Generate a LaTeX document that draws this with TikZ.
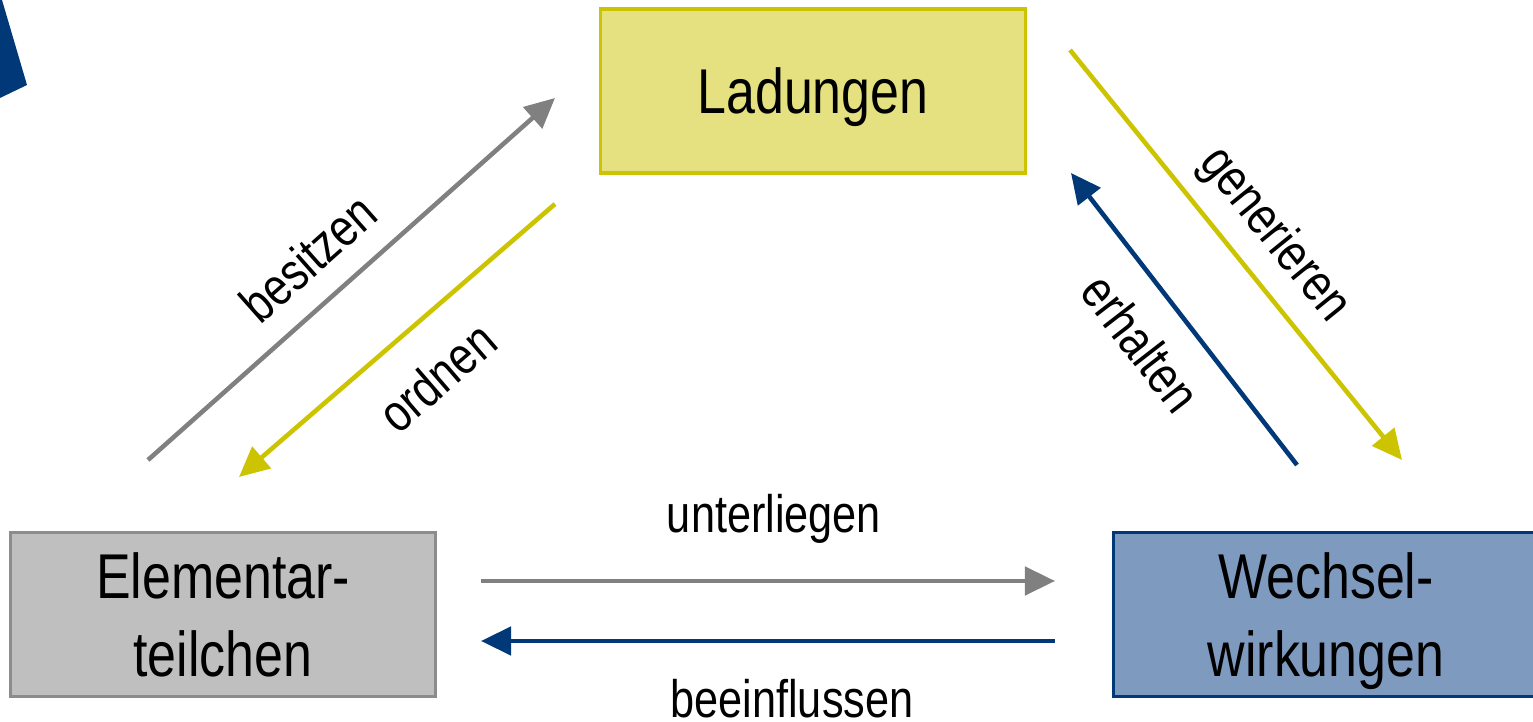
\documentclass[tikz,border=0pt]{standalone}
\usepackage{fontspec}
\setmainfont{Liberation Sans}[FakeStretch=0.82]
\usetikzlibrary{arrows.meta}
\definecolor{gelb}{RGB}{204,196,0}
\definecolor{gelbfill}{RGB}{229,225,128}
\definecolor{grau}{RGB}{128,128,128}
\definecolor{graurand}{RGB}{140,140,140}
\definecolor{graufill}{RGB}{191,191,191}
\definecolor{blau}{RGB}{0,56,120}
\definecolor{blaufill}{RGB}{127,154,191}

\begin{document}
\begin{tikzpicture}
	[x=0.01cm, y=-0.01cm, line width=1.3pt,
	main/.style = {draw, rectangle, line width=0.9pt, minimum width=4.24cm, minimum height=1.64cm, align=center, text depth=0pt, font=\fontsize{18}{22.2}\selectfont},
	conn/.style = {-{Triangle[length=0.3cm, width=0.28cm]}},
	lbl/.style = {font=\fontsize{15}{18}\selectfont, inner sep=0pt}]
	\useasboundingbox (0,0) rectangle (1533,722);
	\fill[blau] (0,0) -- (2,0) -- (27,85) -- (0,98) -- cycle;
	\node[main, fill=gelbfill, draw=gelb] (1) at (813,91) {Ladungen};
	\node[main, fill=graufill, draw=graurand] (2) at (223,614.5) {Elementar-\\teilchen};
	\node[main, fill=blaufill, draw=blau] (3) at (1326,614.5) {Wechsel-\\wirkungen};
	\coordinate (a1) at (148,460);
	\coordinate (a2) at (555,98);
	\coordinate (b1) at (555,204);
	\coordinate (b2) at (239,477);
	\coordinate (c1) at (1070,50);
	\coordinate (c2) at (1402,460);
	\coordinate (d1) at (1297,465);
	\coordinate (d2) at (1071,173);
	\coordinate (e1) at (481,581);
	\coordinate (e2) at (1055,581);
	\coordinate (f1) at (1055,641);
	\coordinate (f2) at (481,641);
	\draw[conn, grau] (a1) -- (a2);
	\draw[conn, gelb] (b1) -- (b2);
	\draw[conn, gelb] (c1) -- (c2);
	\draw[conn, blau] (d1) -- (d2);
	\draw[conn, grau] (e1) -- (e2);
	\draw[conn, blau] (f1) -- (f2);
	\node[lbl, rotate=41.6] (l1) at (308,258) {besitzen};
	\node[lbl, rotate=40.8] (l2) at (437,377) {ordnen};
	\node[lbl, rotate=-51] (l3) at (1274,235) {generieren};
	\node[lbl, rotate=-52.3] (l4) at (1141,343) {erhalten};
	\node[lbl, anchor=base] (l5) at (774,533) {unterliegen};
	\node[lbl, anchor=base] (l6) at (792,718) {beeinflussen};
\end{tikzpicture}
\end{document}
